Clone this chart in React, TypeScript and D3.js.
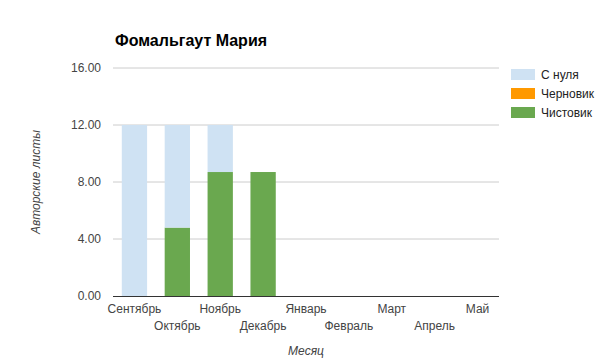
import React from "react";
import * as d3 from "d3";

const months = ["Сентябрь", "Октябрь", "Ноябрь", "Декабрь", "Январь", "Февраль", "Март", "Апрель", "Май"];
const fromScratch = [12, 7.2, 3.3, 0, 0, 0, 0, 0, 0];
const draft = [0, 0, 0, 0, 0, 0, 0, 0, 0];
const clean = [0, 4.8, 8.7, 8.7, 0, 0, 0, 0, 0];
const yTicks = [0, 4, 8, 12, 16];
const seriesNames = ["С нуля", "Черновик", "Чистовик"];
const seriesColors = ["#cfe2f3", "#ff9900", "#6aa84f"];

export default function App() {
  const W = 605, H = 360;
  const left = 113, right = 499, top = 68, bottom = 296;
  const font = "Arial, 'Liberation Sans', sans-serif";
  const x = d3.scaleBand<string>().domain(months).range([left, right]).paddingInner(0.41).paddingOuter(0.205);
  const y = d3.scaleLinear().domain([0, 16]).range([bottom, top]);

  const rows = months.map((m, i) => ({ month: m, clean: clean[i], draft: draft[i], scratch: fromScratch[i] }));
  const stack = d3.stack<any>().keys(["clean", "draft", "scratch"])(rows);
  const colorFor: Record<string, string> = { scratch: seriesColors[0], draft: seriesColors[1], clean: seriesColors[2] };

  return (
    <svg width={W} height={H} style={{ position: "absolute", left: 0, top: 0, fontFamily: font }}>
      <rect width={W} height={H} fill="#fff" />
      <text x={115} y={46} fontSize={16} fontWeight="bold" fill="#000">Фомальгаут Мария</text>
      {yTicks.map((t) => (
        <g key={t}>
          {t !== 0 && <line x1={left} x2={right} y1={y(t)} y2={y(t)} stroke="#cccccc" strokeWidth={1} />}
          <text x={101} y={y(t) + 4} textAnchor="end" fontSize={12} fill="#444">{t.toFixed(2)}</text>
        </g>
      ))}
      {stack.map((s) => (
        <g key={s.key}>
          {s.map((d, i) =>
            d[1] - d[0] > 0 ? (
              <rect key={i} x={x(months[i])} width={x.bandwidth()} y={y(d[1])} height={y(d[0]) - y(d[1])} fill={colorFor[s.key]} />
            ) : null
          )}
        </g>
      ))}
      <line x1={left} x2={right} y1={bottom + 0.5} y2={bottom + 0.5} stroke="#333" strokeWidth={1} />
      {months.map((m, i) => (
        <text key={m} x={(x(m) as number) + x.bandwidth() / 2} y={i % 2 === 0 ? 313 : 330} textAnchor="middle" fontSize={12} fill="#444">{m}</text>
      ))}
      <text x={(left + right) / 2} y={355} textAnchor="middle" fontSize={12} fontStyle="italic" fill="#444">Месяц</text>
      <text transform={`translate(40, ${(top + bottom) / 2 + 0}) rotate(-90)`} textAnchor="middle" fontSize={12} fontStyle="italic" fill="#444">Авторские листы</text>
      {seriesNames.map((n, i) => (
        <g key={n} transform={`translate(511, ${69 + i * 19})`}>
          <rect width={24} height={11} fill={seriesColors[i]} />
          <text x={30} y={10} fontSize={12} fill="#222">{n}</text>
        </g>
      ))}
    </svg>
  );
}
